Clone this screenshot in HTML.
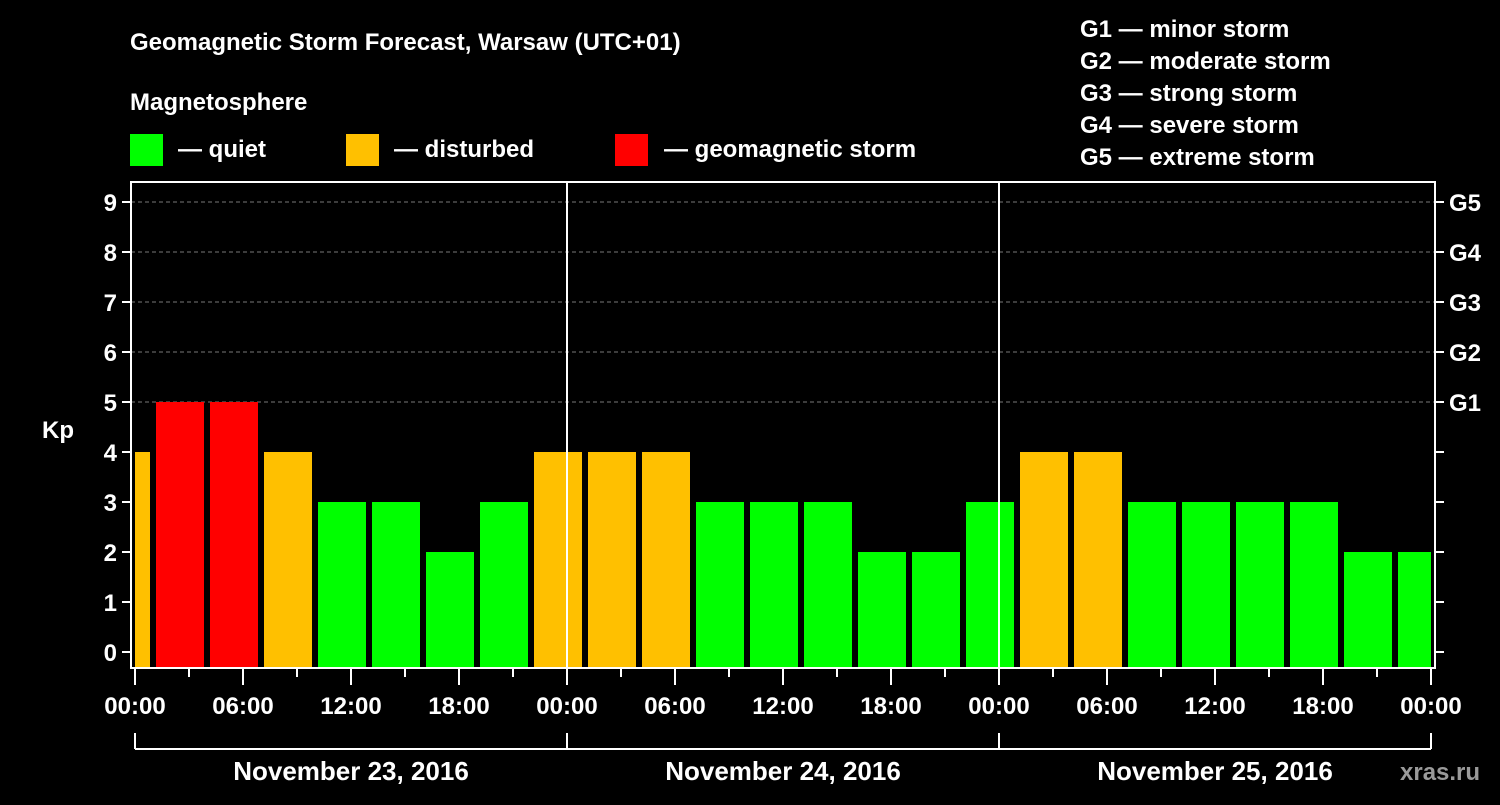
<!DOCTYPE html>
<html><head><meta charset="utf-8"><style>
html,body{margin:0;padding:0;background:#000;}
svg text{font-family:"Liberation Sans",Arial,sans-serif;font-weight:bold;fill:#fff;}
</style></head><body>
<svg width="1500" height="800" xmlns="http://www.w3.org/2000/svg">
<rect width="1500" height="800" fill="#000"/>
<text x="130" y="50" font-size="24">Geomagnetic Storm Forecast, Warsaw (UTC+01)</text>
<text x="130" y="110" font-size="24">Magnetosphere</text>
<g>
<rect x="130" y="134" width="33" height="32" fill="#00ff00"/>
<text x="178" y="157" font-size="24">— quiet</text>
<rect x="346" y="134" width="33" height="32" fill="#ffc000"/>
<text x="394" y="157" font-size="24">— disturbed</text>
<rect x="615" y="134" width="33" height="32" fill="#ff0000"/>
<text x="664" y="157" font-size="24">— geomagnetic storm</text>
</g>
<g font-size="24">
<text x="1080" y="37">G1 — minor storm</text>
<text x="1080" y="69">G2 — moderate storm</text>
<text x="1080" y="101">G3 — strong storm</text>
<text x="1080" y="133">G4 — severe storm</text>
<text x="1080" y="165">G5 — extreme storm</text>
</g>
<g id="plot"></g>
<text x="1400" y="780" font-size="24" fill="#888" style="fill:#9a9a9a">xras.ru</text>
</svg>
<script>
const kpValues=[4,5,5,4,3,3,2,3,4,4,4,3,3,3,2,2,3,4,4,3,3,3,3,2,2];
const barHours=[-0.5,2.5,5.5,8.5,11.5,14.5,17.5,20.5,23.5,26.5,29.5,32.5,35.5,38.5,41.5,44.5,47.5,50.5,53.5,56.5,59.5,62.5,65.5,68.5,71.5];
const yTicks=[0,1,2,3,4,5,6,7,8,9];
const gLabels=["","","","","","G1","G2","G3","G4","G5"];
const xTickLabels=["00:00","06:00","12:00","18:00","00:00","06:00","12:00","18:00","00:00","06:00","12:00","18:00","00:00"];
const dayLabels=["November 23, 2016","November 24, 2016","November 25, 2016"];
const NS="http://www.w3.org/2000/svg";
const L=131,R=1435,T=182,B=668,X0=135,PXH=18;
const xs=h=>X0+h*PXH;
const ys=v=>652-v*50;
const g=document.getElementById('plot');
function mk(tag,a,p){const e=document.createElementNS(NS,tag);for(const k in a)e.setAttribute(k,a[k]);(p||g).appendChild(e);return e;}
// grid
yTicks.forEach(v=>{if(v>=5){const l=mk('line',{x1:L,x2:R,y1:ys(v),y2:ys(v),stroke:'#777','stroke-dasharray':'4,3','stroke-width':1});

}});
// bars
const clip=mk('clipPath',{id:'pc'});mk('rect',{x:L+4,y:T,width:R-L-8,height:B-T},clip);
kpValues.forEach((v,i)=>{const c=v>=5?'#ff0000':(v>=4?'#ffc000':'#00ff00');
const r=mk('rect',{x:xs(barHours[i])-24,y:ys(v),width:48,height:B-ys(v),fill:c,'clip-path':'url(#pc)'});

});
// day separators
[24,48].forEach(h=>{const l=mk('line',{x1:xs(h),x2:xs(h),y1:T,y2:B,stroke:'#fff','stroke-width':2});

});
// frame
const f=mk('rect',{x:L,y:T,width:R-L,height:B-T,fill:'none',stroke:'#fff','stroke-width':2});


// y ticks
yTicks.forEach((v,i)=>{mk('line',{x1:L-9,x2:L,y1:ys(v),y2:ys(v),stroke:'#fff','stroke-width':2});
mk('line',{x1:R,x2:R+9,y1:ys(v),y2:ys(v),stroke:'#fff','stroke-width':2});
const t=mk('text',{x:L-14,y:ys(v)+9,'font-size':24,'text-anchor':'end'});t.textContent=v;


if(gLabels[i]){const t2=mk('text',{x:R+14,y:ys(v)+9,'font-size':24});t2.textContent=gLabels[i];

}});
const kp=mk('text',{x:42,y:438,'font-size':24});kp.textContent='Kp';


// x ticks
for(let h=0;h<=72;h+=3){const maj=h%6===0;mk('line',{x1:xs(h),x2:xs(h),y1:B,y2:B+(maj?17:9),stroke:'#fff','stroke-width':2});}
xTickLabels.forEach((s,i)=>{const t=mk('text',{x:xs(i*6),y:714,'font-size':24,'text-anchor':'middle'});t.textContent=s;

});
// date bracket
mk('line',{x1:xs(0),x2:xs(72),y1:749,y2:749,stroke:'#fff','stroke-width':2});
[0,24,48,72].forEach(h=>mk('line',{x1:xs(h),x2:xs(h),y1:733,y2:749,stroke:'#fff','stroke-width':2}));
dayLabels.forEach((s,i)=>{const t=mk('text',{x:xs(i*24+12),y:780,'font-size':26,'text-anchor':'middle'});t.textContent=s;

});
</script>
</body></html>
